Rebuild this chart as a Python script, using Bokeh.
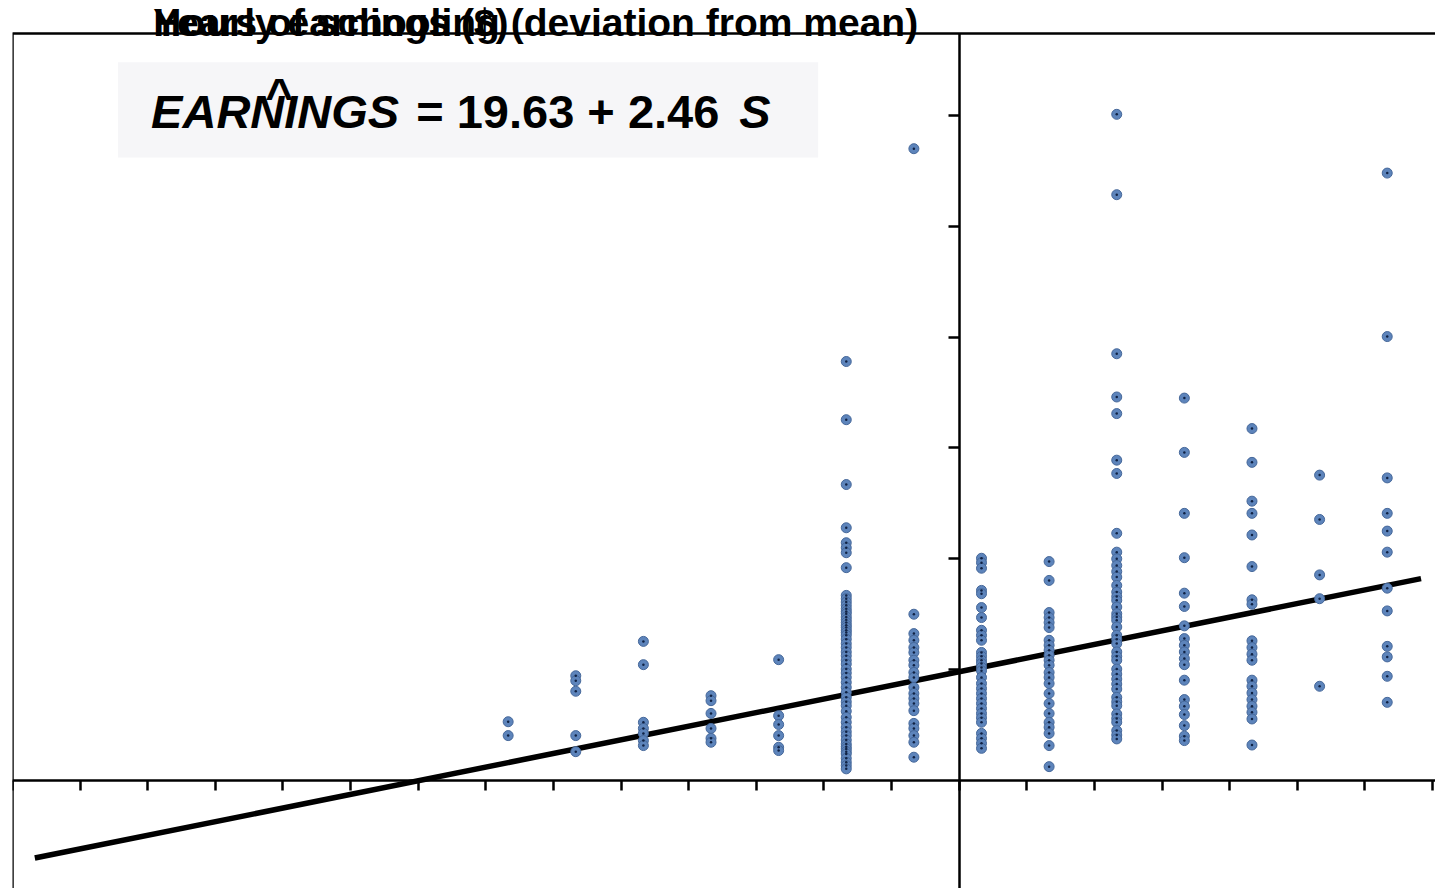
from bokeh.plotting import figure
from bokeh.models import Range1d, Label, BoxAnnotation, FixedTicker, CustomJSTickFormatter
from bokeh.embed import file_html
from bokeh.resources import INLINE

# ---- data ----
S_MEAN = 13.67          # mean years of schooling
INTERCEPT = 19.63       # fitted intercept
SLOPE = 2.46            # fitted slope
line_s = [0.0, 20.5]    # schooling span of fitted line

schooling = [7, 8, 9, 10, 11, 12, 13, 14, 15, 16, 17, 18, 19, 20]
earn_s7 = [10.6, 8.1]
earn_s8 = [18.9, 18.0, 16.1, 8.1, 5.2]
earn_s9 = [25.1, 20.9, 10.5, 9.4, 8.5, 7.2, 6.3]
earn_s10 = [15.3, 14.4, 12.1, 9.4, 7.6, 6.9]
earn_s11 = [21.8, 11.7, 10.1, 8.1, 6.0, 5.4]
earn_s12 = [75.6, 65.1, 53.4, 45.6, 42.9, 42.0, 41.1, 38.4, 33.4, 32.8, 32.2, 31.6,
            31.0, 30.5, 30.1, 29.5, 29.0, 28.5, 28.0, 27.6, 27.1, 26.7, 26.2, 25.5,
            24.7, 24.0, 23.2, 22.5, 21.7, 21.0, 20.1, 19.4, 18.6, 17.7, 16.8, 15.9,
            15.0, 14.2, 13.5, 12.5, 11.4, 10.5, 9.6, 8.8, 8.1, 7.3, 6.6, 6.1, 5.7,
            5.2, 4.8, 4.0, 3.3, 2.7, 2.1]
earn_s13 = [114.0, 30.0, 26.5, 25.3, 24.0, 23.1, 21.7, 20.8, 19.5, 18.6, 16.8, 15.7,
            14.8, 13.9, 12.6, 10.3, 9.4, 8.1, 6.9, 4.2]
earn_s14 = [40.1, 39.3, 38.3, 34.3, 33.7, 31.2, 29.4, 27.1, 26.2, 25.3, 23.1, 22.4,
            21.7, 21.1, 20.4, 19.8, 18.6, 17.5, 16.6, 15.7, 14.8, 13.9, 13.0, 12.1,
            11.3, 10.5, 8.5, 7.6, 6.7, 5.8]
earn_s15 = [39.5, 36.1, 30.3, 29.4, 28.5, 27.6, 25.3, 24.4, 23.5, 22.6, 21.7, 20.8,
            19.5, 18.6, 17.5, 15.7, 13.9, 12.1, 10.5, 9.6, 8.5, 6.3, 2.5]
earn_s16 = [120.2, 105.7, 77.0, 69.2, 66.2, 57.8, 55.4, 44.6, 41.2, 40.0, 38.8, 37.7,
            36.7, 35.2, 34.0, 33.2, 32.5, 31.3, 30.1, 29.5, 28.9, 27.7, 26.2, 25.5,
            24.7, 23.2, 22.4, 21.7, 20.1, 19.2, 18.3, 17.4, 16.5, 15.0, 14.2, 13.5,
            12.0, 11.2, 10.5, 9.0, 8.2, 7.5]
earn_s17 = [69.0, 59.2, 48.2, 40.2, 33.8, 31.4, 27.9, 25.6, 24.4, 23.2, 22.0, 20.9,
            18.1, 14.6, 13.4, 11.9, 9.9, 8.0, 7.2]
earn_s18 = [63.5, 57.4, 50.4, 48.2, 44.3, 38.6, 32.6, 31.8, 25.2, 24.0, 22.8, 21.7,
            18.1, 17.0, 15.8, 14.6, 13.4, 12.3, 11.1, 6.4]
earn_s19 = [55.1, 47.1, 37.1, 32.8, 17.0]
earn_s20 = [109.6, 80.1, 54.6, 48.2, 45.0, 41.2, 34.7, 30.6, 24.2, 22.3, 18.8, 14.1]

earnings_by_s = [earn_s7, earn_s8, earn_s9, earn_s10, earn_s11, earn_s12, earn_s13,
                 earn_s14, earn_s15, earn_s16, earn_s17, earn_s18, earn_s19, earn_s20]

x_ticks = list(range(-14, 8))
y_ticks = [20, 40, 60, 80, 100, 120]

title_y = "Hourly earnings ($)"
title_x = "Years of schooling (deviation from mean)"

# ---- build ----
xs, ys = [], []
for s, vals in zip(schooling, earnings_by_s):
    xs += [s - S_MEAN] * len(vals)
    ys += vals

line_x = [s - S_MEAN for s in line_s]
line_y = [INTERCEPT + SLOPE * x for x in line_x]

X0, X1 = -14.0, 7.044
Y0, Y1 = -19.49, 140.74
Y_TOP = 134.79          # top edge of the plot box

p = figure(width=1435, height=888, x_range=Range1d(X0, X1), y_range=Range1d(Y0, Y1),
           output_backend="svg", toolbar_location=None,
           min_border_left=12, min_border_top=0, min_border_right=0, min_border_bottom=0)
p.xgrid.visible = False
p.ygrid.visible = False
p.outline_line_color = None
p.background_fill_color = "white"
p.border_fill_color = "white"

blank = CustomJSTickFormatter(code="return ''")
for ax, ticks, out in ((p.xaxis, x_ticks, 10), (p.yaxis, y_ticks, 11)):
    ax.fixed_location = 0
    ax.ticker = FixedTicker(ticks=ticks)
    ax.formatter = blank
    ax.major_tick_out = out
    ax.major_tick_in = 0
    ax.minor_tick_out = 0
    ax.minor_tick_in = 0
    ax.axis_line_width = 2.5
    ax.major_tick_line_width = 2.5
    ax.axis_line_color = "black"
    ax.major_tick_line_color = "black"
p.yaxis.bounds = (Y0, Y_TOP)

# plot box: left and top edges (right/bottom lie outside the visible frame)
p.add_layout(BoxAnnotation(left=X0, top=Y_TOP, right=X1 + 2, bottom=Y0 - 20,
                           fill_color=None, fill_alpha=0, line_color="black",
                           line_alpha=1.0, line_width=2.5))

p.line(line_x, line_y, line_color="black", line_width=5.5)
p.scatter(xs, ys, size=10, fill_color="#5d84bb", line_color="#46689a", line_width=1)
p.scatter(xs, ys, size=2.5, fill_color="#102244", line_color=None)

FONT = "Liberation Sans"
for t in (title_y, title_x):
    p.add_layout(Label(x=-11.92, y=136.69, text=t, text_font=FONT, text_font_style="bold",
                       text_font_size="39px", text_color="black", text_baseline="alphabetic"))

p.add_layout(BoxAnnotation(left=-12.44, right=-2.085, bottom=112.4, top=129.6,
                           fill_color="#f6f6f8", fill_alpha=1.0, line_color=None))
EQ_Y = 120.66
p.add_layout(Label(x=-11.95, y=EQ_Y, text="EARNINGS", text_font=FONT,
                   text_font_style="bold italic", text_font_size="47px",
                   text_color="black", text_baseline="alphabetic"))
p.add_layout(Label(x=-8.03, y=EQ_Y, text="= %.2f + %.2f" % (INTERCEPT, SLOPE), text_font=FONT,
                   text_font_style="bold", text_font_size="47px",
                   text_color="black", text_baseline="alphabetic"))
p.add_layout(Label(x=-3.253, y=EQ_Y, text="S", text_font=FONT,
                   text_font_style="bold italic", text_font_size="47px",
                   text_color="black", text_baseline="alphabetic"))
p.add_layout(Label(x=-10.056, y=123.6, text="^", text_font=FONT, text_font_style="bold",
                   text_font_size="48px", text_color="black", text_align="center",
                   text_baseline="alphabetic"))

open("out.html", "w").write(file_html(p, INLINE))
